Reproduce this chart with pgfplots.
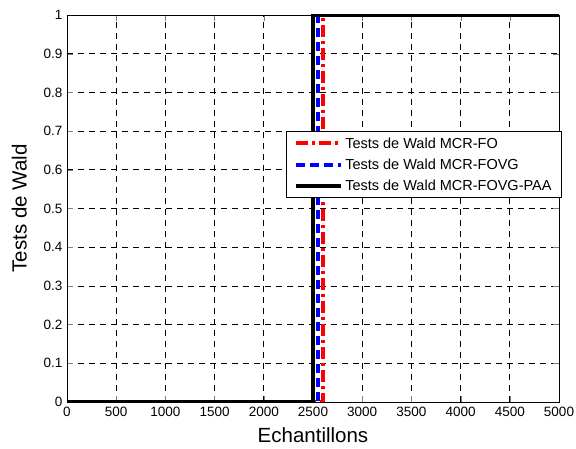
\documentclass[border=0pt]{standalone}
\usepackage{fontspec}
\setmainfont{Liberation Sans}
\usepackage{pgfplots}
\pgfplotsset{compat=1.18}
\begin{document}
\begin{tikzpicture}[x=1pt,y=1pt]
\path[use as bounding box] (-67,-47) rectangle (509,402);
\begin{axis}[
  scale only axis,
  width=492pt, height=387pt,
  at={(0,0)}, anchor=south west,
  xmin=0, xmax=5000, ymin=0, ymax=1,
  xtick={0,500,...,5000},
  ytick={0,0.1,...,1},
  yticklabels={0,0.1,0.2,0.3,0.4,0.5,0.6,0.7,0.8,0.9,1},
  scaled x ticks=false,
  xticklabel style={/pgf/number format/1000 sep={}},
  /pgf/number format/assume math mode=true,
  tick label style={font=\fontsize{13.5}{15}\selectfont},
  xticklabel style={yshift=-1.5pt},
  yticklabel style={xshift=-1pt},
  tick align=inside,
  xtick pos=both, ytick pos=both,
  major tick length=6pt,
  grid=major,
  major grid style={black, dash pattern=on 6pt off 5pt, line width=0.7pt},
  axis line style={black, line width=0.8pt},
  xlabel={Echantillons},
  ylabel={Tests de Wald},
  label style={font=\fontsize{20.5}{24}\selectfont},
  xlabel style={yshift=-4pt},
  ylabel style={yshift=10pt},
  legend style={at={(rel axis cs:1.006,0.700)}, anchor=north east,
    font=\fontsize{14.5}{17}\selectfont, draw=black, line width=0.8pt,
    row sep=5pt, inner xsep=8pt, inner ysep=4pt},
  legend cell align=left,
  legend image code/.code={\draw[#1] (0pt,0pt) -- (45pt,0pt);},
]
\addplot[red, line width=4pt, dash pattern=on 12pt off 4pt on 3pt off 4pt] coordinates {(0,0) (2600,0) (2600,1) (5000,1)};
\addlegendentry{Tests de Wald MCR-FO}
\addplot[blue, line width=4pt, dash pattern=on 9pt off 5pt] coordinates {(0,0) (2550,0) (2550,1) (5000,1)};
\addlegendentry{Tests de Wald MCR-FOVG}
\addplot[black, line width=4pt] coordinates {(0,0) (2500,0) (2500,1) (5000,1)};
\addlegendentry{Tests de Wald MCR-FOVG-PAA}
\end{axis}
\end{tikzpicture}
\end{document}
